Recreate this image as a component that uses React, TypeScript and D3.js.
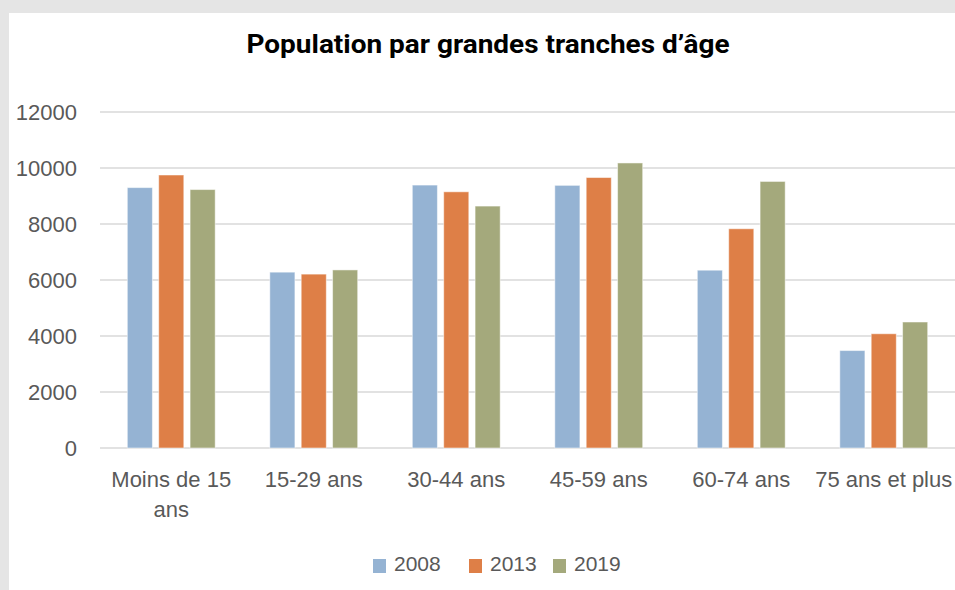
import React, { useRef, useEffect } from "react";
import * as d3 from "d3";

const categories = [
  "Moins de 15 ans",
  "15-29 ans",
  "30-44 ans",
  "45-59 ans",
  "60-74 ans",
  "75 ans et plus",
];
const series = ["2008", "2013", "2019"];
const values2008 = [9300, 6280, 9390, 9380, 6350, 3480];
const values2013 = [9750, 6210, 9150, 9660, 7830, 4080];
const values2019 = [9230, 6360, 8640, 10180, 9520, 4500];
const yTicks = [0, 2000, 4000, 6000, 8000, 10000, 12000];
const colors = ["#95b3d3", "#de7f47", "#a4a97c"];
const title = "Population par grandes tranches d\u2019âge";

const App: React.FC = () => {
  const svgRef = useRef<SVGSVGElement>(null);

  useEffect(() => {
    if (!svgRef.current) return;
    const width = 955;
    const height = 590;
    const svg = d3.select(svgRef.current);
    svg.selectAll("*").remove();
    svg.attr("width", width).attr("height", height);

    const labelFont = "'Liberation Sans', Arial, sans-serif";

    // background + panel
    svg.append("rect").attr("width", width).attr("height", height).attr("fill", "#e5e5e5");
    svg
      .append("rect")
      .attr("x", 9)
      .attr("y", 13)
      .attr("width", width - 9)
      .attr("height", height - 13)
      .attr("fill", "#ffffff");

    // title
    svg
      .append("text")
      .attr("x", 488)
      .attr("y", 53)
      .attr("text-anchor", "middle")
      .attr("font-family", "Roboto, 'DejaVu Sans', sans-serif")
      .attr("font-weight", 700)
      .attr("font-size", 26)
      .attr("textLength", 483)
      .attr("lengthAdjust", "spacingAndGlyphs")
      .attr("fill", "#000")
      .text(title);

    const plot = { left: 100, right: 955, top: 112, bottom: 448 };

    const x = d3
      .scaleBand<string>()
      .domain(categories)
      .range([plot.left, plot.right])
      .padding(0);
    const xs = d3
      .scaleBand<string>()
      .domain(series)
      .range([0, x.bandwidth()])
      .paddingInner(0.2)
      .paddingOuter(0.87);
    const y = d3.scaleLinear().domain([0, 12000]).range([plot.bottom, plot.top]);

    // gridlines
    svg
      .append("g")
      .selectAll("line")
      .data(yTicks)
      .join("line")
      .attr("x1", plot.left)
      .attr("x2", plot.right)
      .attr("y1", (d) => y(d))
      .attr("y2", (d) => y(d))
      .attr("stroke", "#d9d9d9")
      .attr("stroke-width", 1.5);

    // y labels
    svg
      .append("g")
      .selectAll("text")
      .data(yTicks)
      .join("text")
      .attr("x", 77)
      .attr("y", (d) => y(d))
      .attr("dy", "0.35em")
      .attr("text-anchor", "end")
      .attr("font-family", labelFont)
      .attr("font-size", 22)
      .attr("fill", "#595959")
      .text((d) => String(d));

    // bars
    const allValues = [values2008, values2013, values2019];
    const rows = categories.flatMap((c, i) =>
      series.map((s, j) => ({ cat: c, s, j, v: allValues[j][i] })),
    );
    svg
      .append("g")
      .selectAll("rect")
      .data(rows)
      .join("rect")
      .attr("x", (d) => (x(d.cat) ?? 0) + (xs(d.s) ?? 0))
      .attr("y", (d) => y(d.v))
      .attr("width", xs.bandwidth())
      .attr("height", (d) => y(0) - y(d.v))
      .attr("fill", (d) => colors[d.j])
      .attr("stroke", "#ffffff")
      .attr("stroke-opacity", 0.5)
      .attr("stroke-width", 1);

    // category labels, wrapped to the band width
    const catLabels = svg
      .append("g")
      .selectAll("text")
      .data(categories)
      .join("text")
      .attr("x", (d) => (x(d) ?? 0) + x.bandwidth() / 2)
      .attr("y", 487)
      .attr("text-anchor", "middle")
      .attr("font-family", labelFont)
      .attr("font-size", 22)
      .attr("fill", "#595959");

    catLabels.each(function (d) {
      const text = d3.select(this);
      const words = d.split(" ");
      const cx = (x(d) ?? 0) + x.bandwidth() / 2;
      let line: string[] = [];
      let tspan = text.append("tspan").attr("x", cx).attr("dy", 0);
      for (const w of words) {
        line.push(w);
        tspan.text(line.join(" "));
        const node = tspan.node() as SVGTSpanElement;
        if (node.getComputedTextLength() > x.bandwidth() && line.length > 1) {
          line.pop();
          tspan.text(line.join(" "));
          line = [w];
          tspan = text.append("tspan").attr("x", cx).attr("dy", 30).text(w);
        }
      }
    });

    // legend
    const legendX = [373, 469, 553];
    const legend = svg
      .append("g")
      .selectAll("g")
      .data(series)
      .join("g")
      .attr("transform", (d, i) => `translate(${legendX[i]},559)`);
    legend
      .append("rect")
      .attr("width", 13)
      .attr("height", 14)
      .attr("fill", (d, i) => colors[i]);
    legend
      .append("text")
      .attr("x", 21)
      .attr("y", 12)
      .attr("font-family", labelFont)
      .attr("font-size", 21)
      .attr("fill", "#595959")
      .text((d) => d);
  }, []);

  return (
    <svg
      ref={svgRef}
      style={{ position: "absolute", left: 0, top: 0, display: "block" }}
    />
  );
};

export default App;
